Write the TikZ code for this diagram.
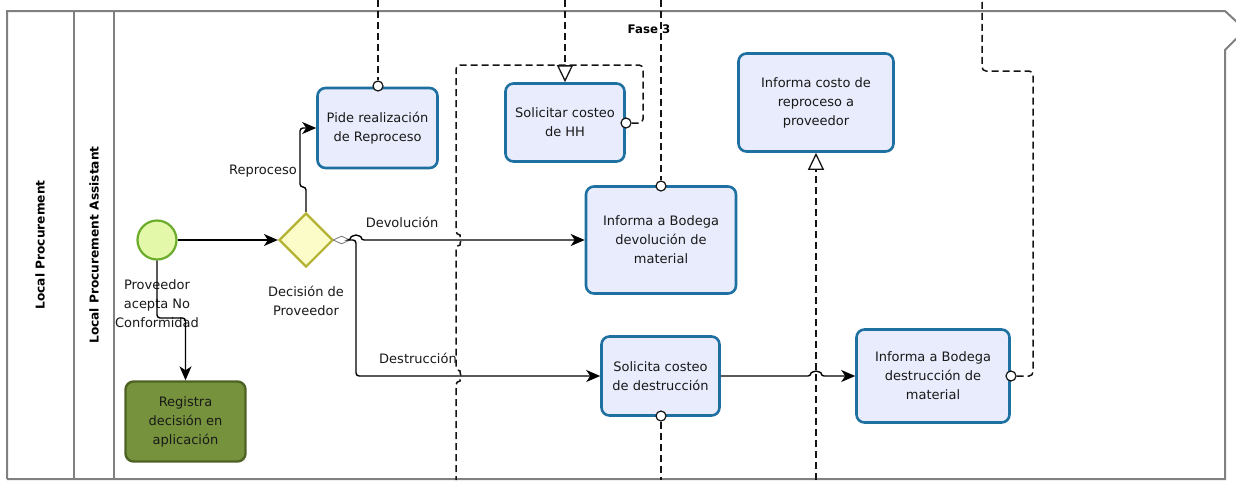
\documentclass[tikz,border=0pt]{standalone}
\usepackage{fontspec}
\setmainfont{DejaVu Sans}
\usetikzlibrary{arrows.meta,shapes.geometric}

\definecolor{poolline}{RGB}{128,128,128}
\definecolor{taskfill}{RGB}{233,236,252}
\definecolor{taskline}{RGB}{30,112,160}
\definecolor{startfill}{RGB}{228,248,170}
\definecolor{startline}{RGB}{108,172,44}
\definecolor{gwfill}{RGB}{252,252,200}
\definecolor{gwline}{RGB}{180,178,50}
\definecolor{donefill}{RGB}{118,146,60}
\definecolor{doneline}{RGB}{78,98,36}
\definecolor{msgline}{RGB}{20,20,20}
\definecolor{inktext}{RGB}{25,25,25}

\begin{document}
\begin{tikzpicture}[x=1pt,y=-1pt,
  txt/.style={font=\fontsize{13}{19}\selectfont, align=center, inner sep=0pt, text=inktext},
  task/.style={txt, draw=taskline, fill=taskfill, line width=2.6pt, rounded corners=8pt},
  lanelabel/.style={font=\bfseries\fontsize{12.2}{14}\selectfont, rotate=90, inner sep=0pt},
  flow/.style={line width=1.4pt, -{Stealth[length=14pt,width=12pt,inset=4pt]}, rounded corners=3pt},
  msg/.style={line width=1.5pt, dash pattern=on 7pt off 4pt, draw=msgline, rounded corners=4pt},
  msgdot/.style={circle, draw=msgline, fill=white, line width=1.2pt, minimum size=10pt, inner sep=0pt},
  msgend/.style={-{Triangle[open,length=17pt,width=16pt,line width=1.3pt]}},
]
\useasboundingbox (0,0) rectangle (1236,480);
\fill[white] (0,0) rectangle (1236,480);

% pool frame with torn right edge
\draw[poolline, line width=2pt] (7,479) -- (7,11) -- (1225,11) -- (1238,23);
\draw[poolline, line width=2pt] (1238,37) -- (1225,50) -- (1225,479) -- (7,479);
\draw[poolline, line width=1.6pt] (74,11) -- (74,479);
\draw[poolline, line width=1.6pt] (114,11) -- (114,479);

% lane titles
\node[lanelabel] (lane1) at (40,245) {Local Procurement};
\node[lanelabel] (lane2) at (94,245) {Local Procurement Assistant};
\node[font=\bfseries\fontsize{11.8}{14}\selectfont, inner sep=0pt] (fase) at (649,29) {Fase 3};

% start event and gateway
\node[circle, draw=startline, fill=startfill, line width=2.2pt, minimum size=39pt, inner sep=0pt] (start) at (157,240) {};
\node[txt] (startlbl) at (157,304) {Proveedor\\acepta No\\Conformidad};
\node[diamond, aspect=1, draw=gwline, fill=gwfill, line width=2.2pt, minimum width=54pt, minimum height=54pt, inner sep=0pt] (gw) at (306,240) {};
\node[txt] (gwlbl) at (306,301) {Decisión de\\Proveedor};

% tasks
\node[txt, draw=doneline, fill=donefill, line width=2.4pt, rounded corners=8pt, minimum width=120pt, minimum height=80pt, text=black!90] (reg) at (185.5,421.5) {Registra\\decisión en\\aplicación};
\node[task, minimum width=120pt, minimum height=80pt] (pide) at (377.5,128) {Pide realización\\de Reproceso};
\node[task, minimum width=119pt, minimum height=78pt] (hh) at (565,122.5) {Solicitar costeo\\de HH};
\node[task, minimum width=150pt, minimum height=107pt] (dev) at (661,240) {Informa a Bodega\\devolución de\\material};
\node[task, minimum width=118pt, minimum height=79pt] (dest) at (660.5,376) {Solicita costeo\\de destrucción};
\node[task, minimum width=155pt, minimum height=98pt] (costo) at (816,102.5) {Informa costo de\\reproceso a\\proveedor};
\node[task, minimum width=153pt, minimum height=93pt] (bodd) at (933,376) {Informa a Bodega\\destrucción de\\material};

% sequence flows
\draw[flow] (start) -- (gw);
\draw[flow] (gw.north) -- (306,187) -- (300,187) -- (300,128) -- (pide.west);
\node[txt, anchor=east] (lblrep) at (297,171) {Reproceso};
\draw[flow] (start.south) -- (157,318) -| (reg.north);

\node[diamond, aspect=2, draw=gray, fill=white, line width=0.9pt, minimum width=17pt, minimum height=8pt, inner sep=0pt] (cond) at (341.5,240) {};
\draw[flow] (cond.east) -- (351,240) arc[start angle=180, end angle=360, radius=5] -- (dev.west);
\draw[flow] (cond.east) -- (356,240) -- (356,376) -- (dest.west);
\node[txt] (lbldev) at (402,222) {Devolución};
\node[txt] (lbldes) at (418,358) {Destrucción};
\draw[flow] (dest.east) -- (811,376) arc[start angle=180, end angle=360, radius=5] -- (bodd.west);

% message flows
\coordinate (tpide) at (378,0);
\coordinate (thh) at (565,0);
\coordinate (tdev) at (661,0);
\coordinate (bdest) at (661,480);
\coordinate (bcosto) at (816,480);
\coordinate (tbodd) at (982,0);
\coordinate (bloop) at (456,480);

\node[msgdot] (mpide) at (378,86) {};
\draw[msg] (tpide) -- (mpide);

\draw[msg, msgend] (thh) -- (hh.north);

\node[msgdot] (mhh) at (626,123) {};
\draw[msg] (mhh) -- (643,123) -- (643,65) -- (456,65) -- (456,235)
  arc[start angle=270, end angle=450, radius=5] -- (456,371)
  arc[start angle=270, end angle=450, radius=5] -- (bloop);

\node[msgdot] (mdev) at (661,186) {};
\draw[msg] (tdev) -- (mdev);

\node[msgdot] (mdest) at (661,416) {};
\draw[msg] (mdest) -- (bdest);

\draw[msg, msgend] (bcosto) -- (costo.south);

\node[msgdot] (mbodd) at (1011,376) {};
\draw[msg] (mbodd) -- (1033,376) -- (1033,71) -- (982,71) -- (tbodd);
\end{tikzpicture}
\end{document}
